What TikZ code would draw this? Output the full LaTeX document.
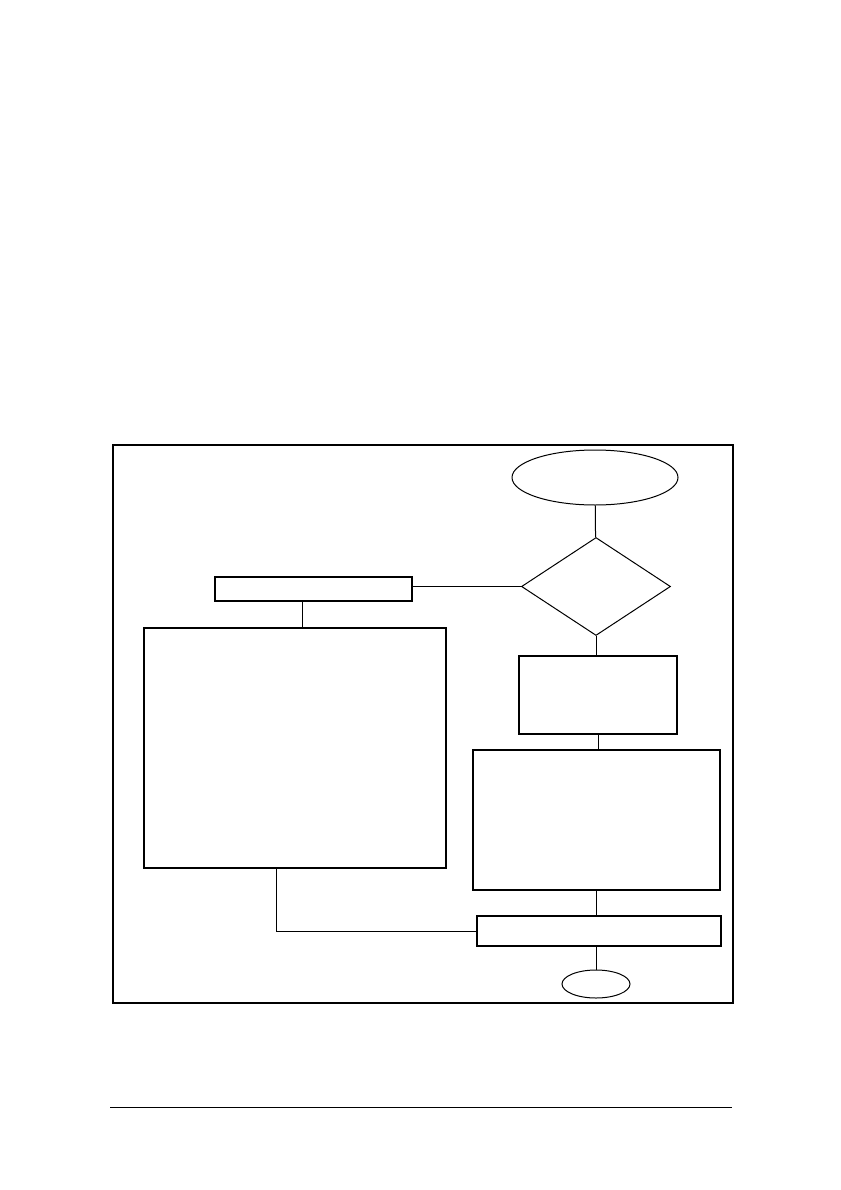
\documentclass[tikz,border=0pt]{standalone}
\usepackage{tikz}
\usetikzlibrary{shapes.geometric}

\begin{document}
\begin{tikzpicture}[x=1pt, y=-1pt, line width=1.2pt,
    stepbox/.style={draw, rectangle, inner sep=0pt},
    termnode/.style={draw, ellipse, inner sep=0pt, line width=1pt}]
        \useasboundingbox (0,0) rectangle (840,1190);

        \node[draw, rectangle, inner sep=0pt, minimum width=620pt, minimum height=558pt] (frame) at (423,724) {};

        \node[termnode, minimum width=166pt, minimum height=55pt] (start) at (595,477.5) {};
        \node[draw, diamond, inner sep=0pt, line width=1pt, minimum width=149pt, minimum height=98pt] (check) at (596,586.5) {};
        \node[stepbox, minimum width=197pt, minimum height=24pt] (box1) at (313.5,589) {};
        \node[stepbox, minimum width=302pt, minimum height=240pt] (big) at (295,748) {};
        \node[stepbox, minimum width=158pt, minimum height=78pt] (box2) at (598,695) {};
        \node[stepbox, minimum width=247pt, minimum height=140pt] (box3) at (596.5,820) {};
        \node[stepbox, minimum width=244pt, minimum height=30pt] (box4) at (599,931) {};
        \node[termnode, minimum width=68pt, minimum height=28pt] (stop) at (596,984) {};

        \draw[line width=1pt] (start) -- (check);
        \draw[line width=1pt] (check.west) -- (check.west -| box1.east);
        \draw[line width=1pt] ([xshift=-11.5pt]box1.south) -- ([xshift=-11.5pt]box1.south |- big.north);
        \draw[line width=1pt] (check.south) -- (check.south |- box2.north);
        \draw[line width=1pt] (box2.south) -- (box2.south |- box3.north);
        \draw[line width=1pt] (box3.south) -- (box3.south |- box4.north);
        \draw[line width=1pt] ([xshift=-3pt]box4.south) -- (stop.north);
        \draw[line width=1pt] ([xshift=-19pt]big.south) |- (box4.west);

        % footer rule
        \coordinate (ruleleft) at (110,1107);
        \coordinate (ruleright) at (732,1107);
        \draw[line width=1pt] (ruleleft) -- (ruleright);
\end{tikzpicture}
\end{document}
